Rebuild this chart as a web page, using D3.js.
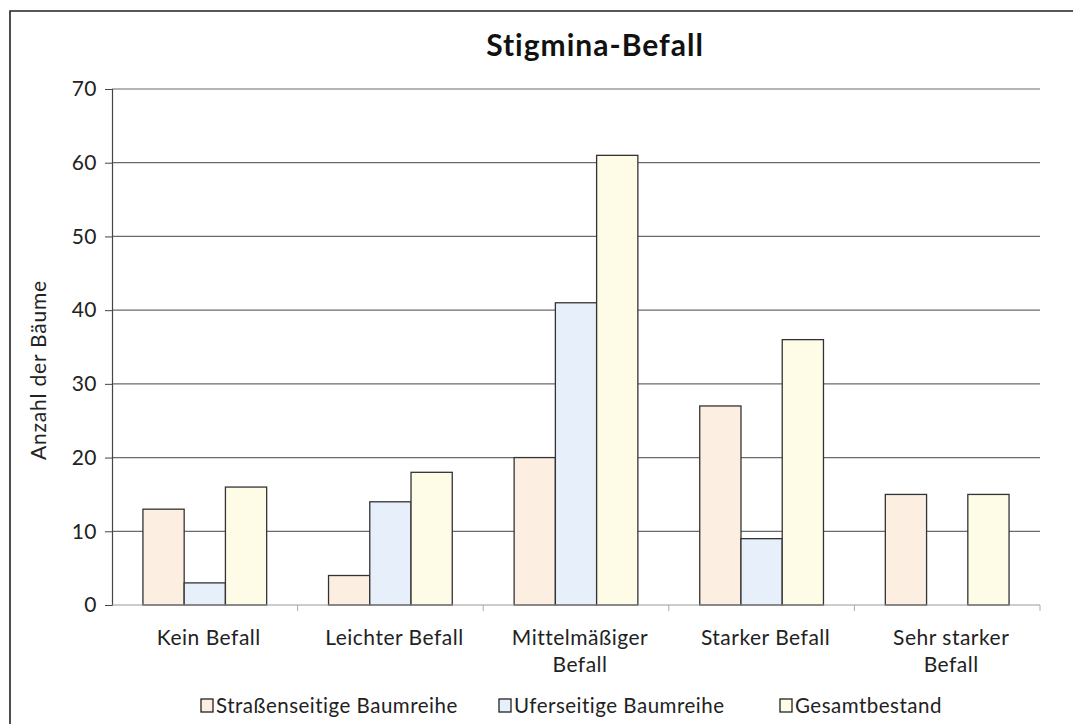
<!DOCTYPE html>
<html>
<head>
<meta charset="utf-8">
<script src="https://cdn.jsdelivr.net/npm/d3@7"></script>
<style>
  body { margin: 0; background: #fff; }
  svg { display: block; font-family: Lato, "DejaVu Sans", sans-serif; }
</style>
</head>
<body>
<svg id="chart" width="1082" height="724"></svg>
<script>
// data
var categories = ["Kein Befall", "Leichter Befall", "Mittelmäßiger Befall", "Starker Befall", "Sehr starker Befall"];
var categoryLines = [["Kein Befall"], ["Leichter Befall"], ["Mittelmäßiger", "Befall"], ["Starker Befall"], ["Sehr starker", "Befall"]];
var seriesNames = ["Straßenseitige Baumreihe", "Uferseitige Baumreihe", "Gesamtbestand"];
var strassenseitig = [13, 4, 20, 27, 15];
var uferseitig = [3, 14, 41, 9, 0];
var gesamt = [16, 18, 61, 36, 15];
var yTicks = [0, 10, 20, 30, 40, 50, 60, 70];
var colors = ["#fcefe2", "#e7effb", "#fefbe7"];

function drawChart(){
  var values = [strassenseitig, uferseitig, gesamt];

  var svg = d3.select("#chart");
  var plotLeft = 112, plotRight = 1040, plotTop = 89, plotBottom = 605;

  // frame (top + left edge, rest is cut off in the scan)
  svg.append("path")
    .attr("d", "M10,724 L10,11 L1073,11")
    .attr("fill", "none")
    .attr("stroke", "#222")
    .attr("stroke-width", 1.6);

  var x0 = d3.scaleBand().domain(categories).range([plotLeft, plotRight]).padding(0);
  var x1 = d3.scaleBand().domain(seriesNames).range([0, x0.bandwidth()]).paddingInner(0).paddingOuter(0.75);
  var y = d3.scaleLinear().domain([0, 70]).range([plotBottom, plotTop]);

  // gridlines
  svg.append("g")
    .selectAll("line")
    .data(yTicks.slice(1))
    .enter()
    .append("line")
      .attr("x1", plotLeft)
      .attr("x2", plotRight)
      .attr("y1", function(d){ return y(d) })
      .attr("y2", function(d){ return y(d) })
      .attr("stroke", "#6a6a6a")
      .attr("stroke-width", 1.2);

  // bars
  var groups = svg.append("g")
    .selectAll("g")
    .data(categories)
    .enter()
    .append("g")
      .attr("transform", function(d){ return "translate(" + x0(d) + ",0)" });

  groups.selectAll("rect")
    .data(function(d, i){ return seriesNames.map(function(s, j){ return {s: s, j: j, v: values[j][i]} }).filter(function(b){ return b.v > 0 }) })
    .enter()
    .append("rect")
      .attr("x", function(d){ return x1(d.s) })
      .attr("y", function(d){ return y(d.v) })
      .attr("width", x1.bandwidth())
      .attr("height", function(d){ return y(0) - y(d.v) })
      .attr("fill", function(d){ return colors[d.j] })
      .attr("stroke", "#333")
      .attr("stroke-width", 1.3);

  // y axis
  var yAxis = d3.axisLeft(y).tickValues(yTicks).tickSize(7).tickPadding(8);
  var gy = svg.append("g").attr("transform", "translate(" + plotLeft + ",0)").call(yAxis);
  gy.select(".domain").attr("stroke", "#444").attr("stroke-width", 1.2);
  gy.selectAll(".tick line").attr("stroke", "#444");
  gy.selectAll("text")
    .attr("font-size", 21)
    .attr("font-family", "Lato, sans-serif")
    .attr("letter-spacing", 0.5)
    .attr("fill", "#222");

  // x axis at 0
  svg.append("line")
    .attr("x1", plotLeft).attr("x2", plotRight)
    .attr("y1", y(0)).attr("y2", y(0))
    .attr("stroke", "#999").attr("stroke-width", 1.2);

  svg.append("g")
    .selectAll("line")
    .data(categories)
    .enter()
    .append("line")
      .attr("x1", function(d){ return x0(d) + x0.bandwidth() })
      .attr("x2", function(d){ return x0(d) + x0.bandwidth() })
      .attr("y1", y(0))
      .attr("y2", y(0) + 6)
      .attr("stroke", "#aaa");

  // category labels
  var labels = svg.append("g")
    .selectAll("text")
    .data(categories)
    .enter()
    .append("text")
      .attr("text-anchor", "middle")
      .attr("font-size", 21)
      .attr("letter-spacing", 0.5)
      .attr("fill", "#222")
      .attr("x", function(d){ return x0(d) + x0.bandwidth() / 2 + 4 })
      .attr("y", 645);

  labels.selectAll("tspan")
    .data(function(d, i){ return categoryLines[i] })
    .enter()
    .append("tspan")
      .attr("x", function(){ return d3.select(this.parentNode).attr("x") })
      .attr("dy", function(d, i){ return i == 0 ? 0 : 27 })
      .text(function(d){ return d });

  // title
  svg.append("text")
    .attr("x", 595)
    .attr("y", 56)
    .attr("text-anchor", "middle")
    .attr("font-size", 30)
    .attr("font-weight", "bold")
    .attr("letter-spacing", 1)
    .attr("fill", "#111")
    .text("Stigmina-Befall");

  // y axis title
  svg.append("text")
    .attr("transform", "translate(46,370) rotate(-90)")
    .attr("text-anchor", "middle")
    .attr("font-size", 21)
    .attr("letter-spacing", 0.8)
    .attr("fill", "#222")
    .text("Anzahl der Bäume");

  // legend
  var legendX = [201, 499, 780];
  var legend = svg.append("g")
    .selectAll("g")
    .data(seriesNames)
    .enter()
    .append("g")
      .attr("transform", function(d, i){ return "translate(" + legendX[i] + ",0)" });

  legend.append("rect")
    .attr("x", 0).attr("y", 699)
    .attr("width", 12).attr("height", 13)
    .attr("fill", function(d, i){ return colors[i] })
    .attr("stroke", "#222")
    .attr("stroke-width", 1.3);

  legend.append("text")
    .attr("x", 15)
    .attr("y", 713)
    .attr("font-size", 20.5)
    .attr("letter-spacing", 0.5)
    .attr("fill", "#222")
    .text(function(d){ return d });
}

window.onload = drawChart;
</script>
</body>
</html>
